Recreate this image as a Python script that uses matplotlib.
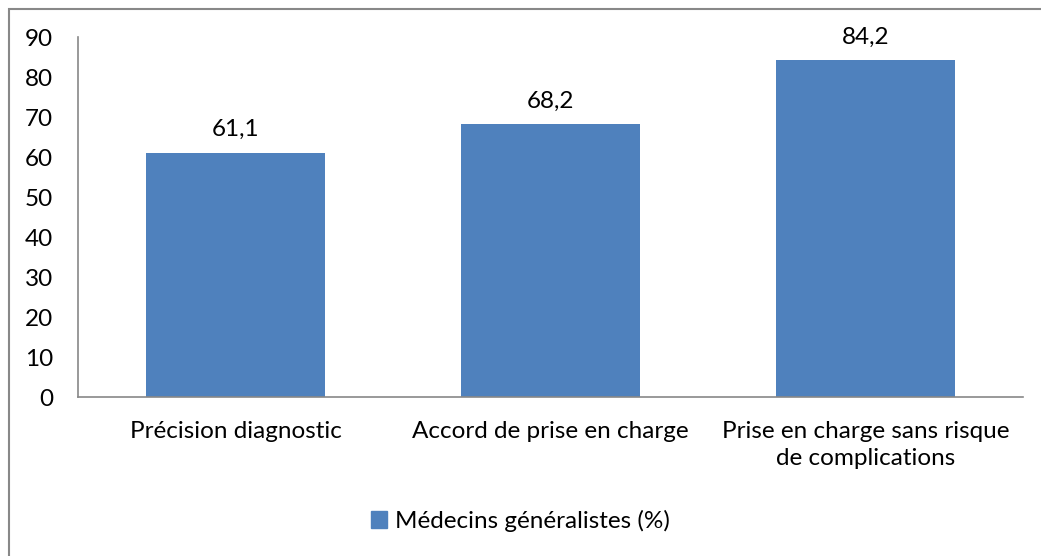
import matplotlib
matplotlib.use("Agg")
import matplotlib.pyplot as plt
from matplotlib.patches import Rectangle, Patch

categories = ["Précision diagnostic", "Accord de prise en charge",
              "Prise en charge sans risque\nde complications"]
values = [61.1, 68.2, 84.2]
series_name = "Médecins généralistes (%)"
yticks = [0, 10, 20, 30, 40, 50, 60, 70, 80, 90]

plt.rcParams['font.family'] = ['Lato', 'DejaVu Sans']
color = "#4F81BD"
fs = 17.5

fig = plt.figure(figsize=(10.41, 5.56), dpi=100)
ax = fig.add_axes([78/1041, 1-397/556, (1023-78)/1041, (397-37)/556])

x = list(range(len(categories)))
bars = ax.bar(x, values, width=0.57, color=color, zorder=2)
for xi, v in zip(x, values):
    ax.annotate(f"{v:.1f}".replace(".", ","), (xi, v), xytext=(0, 9),
                textcoords="offset points", ha="center", va="bottom", fontsize=fs)

ax.set_xlim(-0.5, len(categories) - 0.5)
ax.set_ylim(0, 90)
ax.set_yticks(yticks)
ax.set_xticks(x)
ax.set_xticklabels(categories, fontsize=fs, linespacing=1.35)
ax.tick_params(axis='y', labelsize=fs, length=0, pad=18)
ax.tick_params(axis='x', length=0, pad=17.5)
for s in ["top", "right"]:
    ax.spines[s].set_visible(False)
for s in ["left", "bottom"]:
    ax.spines[s].set_color("#888888")
    ax.spines[s].set_linewidth(1.2)

fig.legend(handles=[Patch(color=color)], labels=[series_name],
           loc="center", bbox_to_anchor=(0.5, 1-521/556), frameon=False,
           fontsize=fs, handlelength=0.64, handleheight=0.64, handletextpad=0.35)

fig.patches.append(Rectangle((9/1041, -0.05), 1.1, 1.05 - 9/556,
                             transform=fig.transFigure, fill=False,
                             edgecolor="#888888", linewidth=1.5))

fig.savefig("out.png", dpi=100)
